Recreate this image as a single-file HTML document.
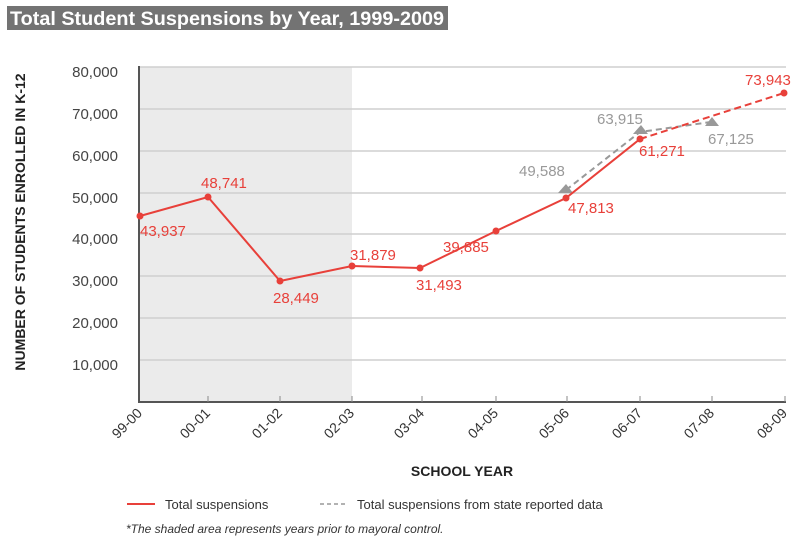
<!DOCTYPE html>
<html><head><meta charset="utf-8"><style>
body{margin:0;background:#fff;}
svg{display:block;font-family:"Liberation Sans",sans-serif;}
</style></head><body>
<svg width="800" height="545" viewBox="0 0 800 545" xmlns="http://www.w3.org/2000/svg">
<rect x="7" y="6" width="441" height="24" fill="#737373"/>
<text x="10" y="25" font-size="19" font-weight="bold" fill="#fff" textLength="434" lengthAdjust="spacingAndGlyphs">Total Student Suspensions by Year, 1999-2009</text>
<rect x="139" y="67" width="213" height="335" fill="#ebebeb"/>
<g stroke="#cfcfcf" stroke-width="1.5">
<line x1="139" y1="67" x2="786" y2="67"/><line x1="139" y1="109" x2="786" y2="109"/>
<line x1="139" y1="151" x2="786" y2="151"/><line x1="139" y1="193" x2="786" y2="193"/>
<line x1="139" y1="234" x2="786" y2="234"/><line x1="139" y1="276" x2="786" y2="276"/>
<line x1="139" y1="318" x2="786" y2="318"/><line x1="139" y1="360" x2="786" y2="360"/>
</g>
<g stroke="#555" stroke-width="2"><line x1="139" y1="66" x2="139" y2="402"/><line x1="138" y1="402" x2="786" y2="402"/></g>
<g stroke="#888" stroke-width="1">
<line x1="208" y1="396" x2="208" y2="402"/><line x1="280" y1="396" x2="280" y2="402"/><line x1="352" y1="396" x2="352" y2="402"/><line x1="422" y1="396" x2="422" y2="402"/><line x1="496" y1="396" x2="496" y2="402"/><line x1="567" y1="396" x2="567" y2="402"/><line x1="640" y1="396" x2="640" y2="402"/><line x1="712" y1="396" x2="712" y2="402"/><line x1="785" y1="396" x2="785" y2="402"/>
</g>
<g font-size="15" fill="#444" text-anchor="end">
<text x="118" y="77">80,000</text><text x="118" y="119">70,000</text><text x="118" y="161">60,000</text><text x="118" y="203">50,000</text><text x="118" y="244">40,000</text><text x="118" y="286">30,000</text><text x="118" y="328">20,000</text><text x="118" y="370">10,000</text>
</g>
<g font-size="14" fill="#333" text-anchor="end">
<text transform="translate(143,414) rotate(-45)">99-00</text>
<text transform="translate(211,414) rotate(-45)">00-01</text>
<text transform="translate(283,414) rotate(-45)">01-02</text>
<text transform="translate(355,414) rotate(-45)">02-03</text>
<text transform="translate(425,414) rotate(-45)">03-04</text>
<text transform="translate(499,414) rotate(-45)">04-05</text>
<text transform="translate(570,414) rotate(-45)">05-06</text>
<text transform="translate(643,414) rotate(-45)">06-07</text>
<text transform="translate(715,414) rotate(-45)">07-08</text>
<text transform="translate(788,414) rotate(-45)">08-09</text>
</g>
<text x="462" y="476" font-size="14" font-weight="bold" fill="#222" text-anchor="middle">SCHOOL YEAR</text>
<text transform="translate(25,222) rotate(-90)" font-size="14" font-weight="bold" fill="#222" text-anchor="middle">NUMBER OF STUDENTS ENROLLED IN K-12</text>
<polyline points="566,190 640,132 711,122" fill="none" stroke="#999" stroke-width="2" stroke-dasharray="6,4"/>
<g fill="#999"><polygon points="558,193 566,184 573,193"/><polygon points="633,134 641,125 648,134"/><polygon points="705,126 712,117 719,126"/></g>
<polyline points="140,216 208,197 280,281 352,266 420,268 496,231 566,198 640,139" fill="none" stroke="#e8403a" stroke-width="2"/>
<polyline points="640,139 784,93" fill="none" stroke="#e8403a" stroke-width="2" stroke-dasharray="7,4"/>
<g fill="#e8403a">
<circle cx="140" cy="216" r="3.5"/><circle cx="208" cy="197" r="3.5"/><circle cx="280" cy="281" r="3.5"/><circle cx="352" cy="266" r="3.5"/><circle cx="420" cy="268" r="3.5"/><circle cx="496" cy="231" r="3.5"/><circle cx="566" cy="198" r="3.5"/><circle cx="640" cy="139" r="3.5"/><circle cx="784" cy="93" r="3.5"/>
</g>
<g font-size="15" fill="#e8403a">
<text x="140" y="236">43,937</text><text x="201" y="188">48,741</text><text x="273" y="303">28,449</text><text x="350" y="260">31,879</text><text x="416" y="290">31,493</text><text x="443" y="252">39,885</text><text x="568" y="213">47,813</text><text x="639" y="156">61,271</text><text x="745" y="85">73,943</text>
</g>
<g font-size="15" fill="#999"><text x="519" y="176">49,588</text><text x="597" y="124">63,915</text><text x="708" y="144">67,125</text></g>
<line x1="127" y1="504" x2="155" y2="504" stroke="#e8403a" stroke-width="2"/>
<text x="165" y="509" font-size="13" fill="#333">Total suspensions</text>
<line x1="320" y1="504" x2="347" y2="504" stroke="#999" stroke-width="1.5" stroke-dasharray="4,3"/>
<text x="357" y="509" font-size="13" fill="#333">Total suspensions from state reported data</text>
<text x="126" y="533" font-size="12" font-style="italic" fill="#333">*The shaded area represents years prior to mayoral control.</text>
</svg>
</body></html>
